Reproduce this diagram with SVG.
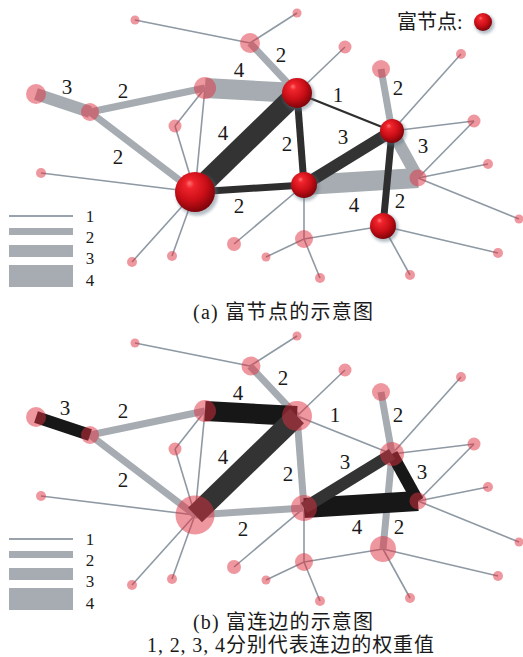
<svg xmlns="http://www.w3.org/2000/svg" width="523" height="657" viewBox="0 0 523 657">
<defs>
<radialGradient id="rg" cx="0.42" cy="0.38" r="0.62" fx="0.36" fy="0.28">
<stop offset="0" stop-color="#ff7070"/>
<stop offset="0.18" stop-color="#f0242c"/>
<stop offset="0.62" stop-color="#c90e17"/>
<stop offset="1" stop-color="#80040a"/>
</radialGradient>
<filter id="blur" x="-50%" y="-50%" width="200%" height="200%"><feGaussianBlur stdDeviation="1.6"/></filter>
</defs>
<style>
line{fill:none;stroke-linecap:butt}
.thin{stroke:#8e99a3;stroke-width:1.6}
.g2{stroke:#a6acb1;stroke-width:7}
.g3{stroke:#a6acb1;stroke-width:12}
.g4{stroke:#a6acb1;stroke-width:20}
.d1{stroke:#2e2e2e;stroke-width:2.2}
.d2{stroke:#2e2e2e;stroke-width:7}
.d3{stroke:#333333;stroke-width:12}
.d4{stroke:#333333;stroke-width:20}
.k3{stroke:#171717;stroke-width:12}
.k4{stroke:#171717;stroke-width:20}
.pink{fill:#e0303f;fill-opacity:0.5}
.rich{fill:url(#rg)}
.sh{fill:#5a6f80;opacity:0.45;filter:url(#blur)}
.bar{fill:#a6acb1}
.num{font-family:"Liberation Serif","DejaVu Serif",serif;font-size:21px;fill:#1a1a1a;text-anchor:middle}
.leg{font-family:"Liberation Serif","DejaVu Serif",serif;font-size:17px;fill:#1a1a1a;text-anchor:middle}
.cap{font-family:"Liberation Serif","Noto Sans CJK SC",serif;font-size:20px;fill:#1a1a1a}
</style>

<!-- ===== Panel (a) ===== -->
<g id="panel-a">
<g id="a-connectors">
<line class="thin" x1="135" y1="20" x2="250" y2="43"/>
<line class="thin" x1="297" y1="13" x2="250" y2="43"/>
<line class="thin" x1="297" y1="93" x2="345" y2="47"/>
<line class="thin" x1="205" y1="88" x2="175" y2="126"/>
<line class="thin" x1="205" y1="88" x2="195" y2="192"/>
<line class="thin" x1="175" y1="126" x2="195" y2="192"/>
<line class="thin" x1="195" y1="192" x2="41" y2="173"/>
<line class="thin" x1="195" y1="192" x2="132" y2="262"/>
<line class="thin" x1="195" y1="192" x2="172" y2="256"/>
<line class="thin" x1="392" y1="131" x2="461" y2="54"/>
<line class="thin" x1="392" y1="131" x2="474" y2="121"/>
<line class="thin" x1="418" y1="178" x2="474" y2="121"/>
<line class="thin" x1="418" y1="178" x2="488" y2="164"/>
<line class="thin" x1="418" y1="178" x2="519" y2="219"/>
<line class="thin" x1="304" y1="185" x2="234" y2="244"/>
<line class="thin" x1="304" y1="185" x2="304" y2="239"/>
<line class="thin" x1="304" y1="239" x2="266" y2="257"/>
<line class="thin" x1="304" y1="239" x2="320" y2="278"/>
<line class="thin" x1="304" y1="239" x2="383" y2="226"/>
<line class="thin" x1="383" y1="226" x2="410" y2="275"/>
<line class="thin" x1="383" y1="226" x2="498" y2="253"/>
<line class="g2" x1="250" y1="43" x2="297" y2="93"/>
<line class="g2" x1="90" y1="112" x2="205" y2="88"/>
<line class="g2" x1="90" y1="112" x2="195" y2="192"/>
<line class="g2" x1="392" y1="131" x2="381" y2="69"/>
<line class="g3" x1="36" y1="94" x2="90" y2="112"/>
<line class="g3" x1="392" y1="131" x2="418" y2="178"/>
<line class="g4" x1="205" y1="88" x2="297" y2="93"/>
<line class="g4" x1="304" y1="185" x2="418" y2="178"/>
<line class="d1" x1="297" y1="93" x2="392" y2="131"/>
<line class="d2" x1="297" y1="93" x2="304" y2="185"/>
<line class="d2" x1="195" y1="192" x2="304" y2="185"/>
<line class="d2" x1="392" y1="131" x2="383" y2="226"/>
<line class="d3" x1="304" y1="185" x2="392" y2="131"/>
<line class="d4" x1="195" y1="192" x2="297" y2="93"/>
</g>
<g id="a-A"><circle class="pink" cx="135" cy="20" r="4.5"/></g>
<g id="a-B"><circle class="pink" cx="250" cy="43" r="10"/></g>
<g id="a-C"><circle class="pink" cx="36" cy="94" r="10"/></g>
<g id="a-D"><circle class="pink" cx="90" cy="112" r="9"/></g>
<g id="a-E"><circle class="pink" cx="205" cy="88" r="11"/></g>
<g id="a-F"><circle class="pink" cx="175" cy="126" r="6.5"/></g>
<g id="a-H"><circle class="pink" cx="297" cy="13" r="4.5"/></g>
<g id="a-I"><circle class="pink" cx="345" cy="47" r="6.5"/></g>
<g id="a-J"><circle class="pink" cx="381" cy="69" r="9"/></g>
<g id="a-K"><circle class="pink" cx="461" cy="54" r="5"/></g>
<g id="a-M"><circle class="pink" cx="474" cy="121" r="6.5"/></g>
<g id="a-O"><circle class="pink" cx="41" cy="173" r="5"/></g>
<g id="a-P"><circle class="pink" cx="132" cy="262" r="5"/></g>
<g id="a-Q"><circle class="pink" cx="172" cy="256" r="5"/></g>
<g id="a-R"><circle class="pink" cx="234" cy="244" r="7"/></g>
<g id="a-T"><circle class="pink" cx="418" cy="178" r="8.5"/></g>
<g id="a-U"><circle class="pink" cx="488" cy="164" r="5"/></g>
<g id="a-V"><circle class="pink" cx="519" cy="219" r="4.5"/></g>
<g id="a-X"><circle class="pink" cx="304" cy="239" r="9"/></g>
<g id="a-Y"><circle class="pink" cx="266" cy="257" r="4.5"/></g>
<g id="a-Z"><circle class="pink" cx="320" cy="278" r="5"/></g>
<g id="a-AA"><circle class="pink" cx="410" cy="275" r="5"/></g>
<g id="a-AB"><circle class="pink" cx="498" cy="253" r="5"/></g>
<g id="a-G"><circle class="sh" cx="298.5" cy="95" r="16"/><circle class="rich" cx="297" cy="93" r="15"/></g>
<g id="a-L"><circle class="sh" cx="393.5" cy="133" r="13"/><circle class="rich" cx="392" cy="131" r="12"/></g>
<g id="a-N"><circle class="sh" cx="197" cy="194.5" r="21"/><circle class="rich" cx="195" cy="192" r="20"/></g>
<g id="a-S"><circle class="sh" cx="305.5" cy="187" r="14"/><circle class="rich" cx="304" cy="185" r="13"/></g>
<g id="a-W"><circle class="sh" cx="384.5" cy="228" r="14"/><circle class="rich" cx="383" cy="226" r="13"/></g>
<g id="a-labels">
<text class="num" x="67" y="94">3</text>
<text class="num" x="123" y="98">2</text>
<text class="num" x="239" y="77">4</text>
<text class="num" x="281" y="62">2</text>
<text class="num" x="223" y="140">4</text>
<text class="num" x="118" y="164">2</text>
<text class="num" x="338" y="102">1</text>
<text class="num" x="398" y="95">2</text>
<text class="num" x="287" y="151">2</text>
<text class="num" x="343" y="144">3</text>
<text class="num" x="423" y="153">3</text>
<text class="num" x="239" y="213">2</text>
<text class="num" x="354" y="212">4</text>
<text class="num" x="400" y="208">2</text>
</g>
<g id="a-legend">
<rect class="bar" x="9" y="215" width="64" height="2" style="fill:#9aa3ab"/>
<rect class="bar" x="9" y="228" width="64" height="7"/>
<rect class="bar" x="9" y="245" width="64" height="12"/>
<rect class="bar" x="9" y="265" width="64" height="22"/>
<text class="leg" x="90" y="222">1</text>
<text class="leg" x="90" y="243">2</text>
<text class="leg" x="90" y="264">3</text>
<text class="leg" x="90" y="286">4</text>
</g>
<g id="rich-key">
<text class="cap" x="397" y="29">富节点:</text>
<circle class="sh" cx="484.5" cy="24" r="10"/>
<circle class="rich" cx="483" cy="22" r="9"/>
</g>
<text class="cap" x="193" y="319" textLength="180" lengthAdjust="spacing">(a) 富节点的示意图</text>
</g>

<!-- ===== Panel (b) ===== -->
<g id="panel-b" transform="translate(0,323)">
<g id="b-connectors">
<line class="thin" x1="135" y1="20" x2="250" y2="43"/>
<line class="thin" x1="297" y1="13" x2="250" y2="43"/>
<line class="thin" x1="297" y1="93" x2="345" y2="47"/>
<line class="thin" x1="205" y1="88" x2="175" y2="126"/>
<line class="thin" x1="205" y1="88" x2="195" y2="192"/>
<line class="thin" x1="175" y1="126" x2="195" y2="192"/>
<line class="thin" x1="195" y1="192" x2="41" y2="173"/>
<line class="thin" x1="195" y1="192" x2="132" y2="262"/>
<line class="thin" x1="195" y1="192" x2="172" y2="256"/>
<line class="thin" x1="392" y1="131" x2="461" y2="54"/>
<line class="thin" x1="392" y1="131" x2="474" y2="121"/>
<line class="thin" x1="418" y1="178" x2="474" y2="121"/>
<line class="thin" x1="418" y1="178" x2="488" y2="164"/>
<line class="thin" x1="418" y1="178" x2="519" y2="219"/>
<line class="thin" x1="304" y1="185" x2="234" y2="244"/>
<line class="thin" x1="304" y1="185" x2="304" y2="239"/>
<line class="thin" x1="304" y1="239" x2="266" y2="257"/>
<line class="thin" x1="304" y1="239" x2="320" y2="278"/>
<line class="thin" x1="304" y1="239" x2="383" y2="226"/>
<line class="thin" x1="383" y1="226" x2="410" y2="275"/>
<line class="thin" x1="383" y1="226" x2="498" y2="253"/>
<line class="thin" x1="297" y1="93" x2="392" y2="131"/>
<line class="g2" x1="250" y1="43" x2="297" y2="93"/>
<line class="g2" x1="90" y1="112" x2="205" y2="88"/>
<line class="g2" x1="90" y1="112" x2="195" y2="192"/>
<line class="g2" x1="392" y1="131" x2="381" y2="69"/>
<line class="g2" x1="297" y1="93" x2="304" y2="185"/>
<line class="g2" x1="195" y1="192" x2="304" y2="185"/>
<line class="g2" x1="392" y1="131" x2="383" y2="226"/>
<line class="k3" x1="36" y1="94" x2="90" y2="112"/>
<line class="k3" x1="392" y1="131" x2="418" y2="178"/>
<line class="k4" x1="205" y1="88" x2="297" y2="93"/>
<line class="k4" x1="304" y1="185" x2="418" y2="178"/>
<line class="d3" x1="304" y1="185" x2="392" y2="131"/>
<line class="d4" x1="195" y1="192" x2="297" y2="93"/>
</g>
<g id="b-A"><circle class="pink" cx="135" cy="20" r="4.5"/></g>
<g id="b-B"><circle class="pink" cx="251" cy="43" r="9.5"/></g>
<g id="b-C"><circle class="pink" cx="36" cy="94" r="10"/></g>
<g id="b-D"><circle class="pink" cx="90" cy="112" r="9"/></g>
<g id="b-E"><circle class="pink" cx="205" cy="88" r="11"/></g>
<g id="b-F"><circle class="pink" cx="175" cy="126" r="6.5"/></g>
<g id="b-H"><circle class="pink" cx="297" cy="13" r="4.5"/></g>
<g id="b-I"><circle class="pink" cx="345" cy="47" r="6.5"/></g>
<g id="b-J"><circle class="pink" cx="381" cy="69" r="9"/></g>
<g id="b-K"><circle class="pink" cx="461" cy="54" r="5"/></g>
<g id="b-M"><circle class="pink" cx="474" cy="121" r="6.5"/></g>
<g id="b-O"><circle class="pink" cx="41" cy="173" r="5"/></g>
<g id="b-P"><circle class="pink" cx="132" cy="262" r="5"/></g>
<g id="b-Q"><circle class="pink" cx="172" cy="256" r="5"/></g>
<g id="b-R"><circle class="pink" cx="234" cy="244" r="7"/></g>
<g id="b-T"><circle class="pink" cx="418" cy="178" r="8.5"/></g>
<g id="b-U"><circle class="pink" cx="488" cy="164" r="5"/></g>
<g id="b-V"><circle class="pink" cx="519" cy="219" r="4.5"/></g>
<g id="b-X"><circle class="pink" cx="304" cy="239" r="9"/></g>
<g id="b-Y"><circle class="pink" cx="266" cy="257" r="4.5"/></g>
<g id="b-Z"><circle class="pink" cx="320" cy="278" r="5"/></g>
<g id="b-AA"><circle class="pink" cx="410" cy="275" r="5"/></g>
<g id="b-AB"><circle class="pink" cx="498" cy="253" r="5"/></g>
<g id="b-G"><circle class="pink" cx="297" cy="93" r="15"/></g>
<g id="b-L"><circle class="pink" cx="392" cy="131" r="12"/></g>
<g id="b-N"><circle class="pink" cx="195" cy="192" r="19.5"/></g>
<g id="b-S"><circle class="pink" cx="304" cy="185" r="13"/></g>
<g id="b-W"><circle class="pink" cx="383" cy="226" r="13"/></g>
<g id="b-labels">
<text class="num" x="65" y="92">3</text>
<text class="num" x="123" y="95">2</text>
<text class="num" x="238" y="77">4</text>
<text class="num" x="283" y="62">2</text>
<text class="num" x="223" y="141">4</text>
<text class="num" x="123" y="164">2</text>
<text class="num" x="335" y="99">1</text>
<text class="num" x="398" y="99">2</text>
<text class="num" x="345" y="146">3</text>
<text class="num" x="422" y="156">3</text>
<text class="num" x="288" y="158">2</text>
<text class="num" x="243" y="213">2</text>
<text class="num" x="357" y="211">4</text>
<text class="num" x="399" y="211">2</text>
</g>
<g id="b-legend">
<rect class="bar" x="9" y="215" width="64" height="2" style="fill:#9aa3ab"/>
<rect class="bar" x="9" y="228" width="64" height="7"/>
<rect class="bar" x="9" y="245" width="64" height="12"/>
<rect class="bar" x="9" y="265" width="64" height="22"/>
<text class="leg" x="90" y="222">1</text>
<text class="leg" x="90" y="243">2</text>
<text class="leg" x="90" y="264">3</text>
<text class="leg" x="90" y="286">4</text>
</g>
</g>
<text class="cap" x="193" y="629" textLength="180" lengthAdjust="spacing">(b) 富连边的示意图</text>
<text class="cap" x="147" y="652" textLength="287" lengthAdjust="spacing">1, 2, 3, 4分别代表连边的权重值</text>
</svg>
